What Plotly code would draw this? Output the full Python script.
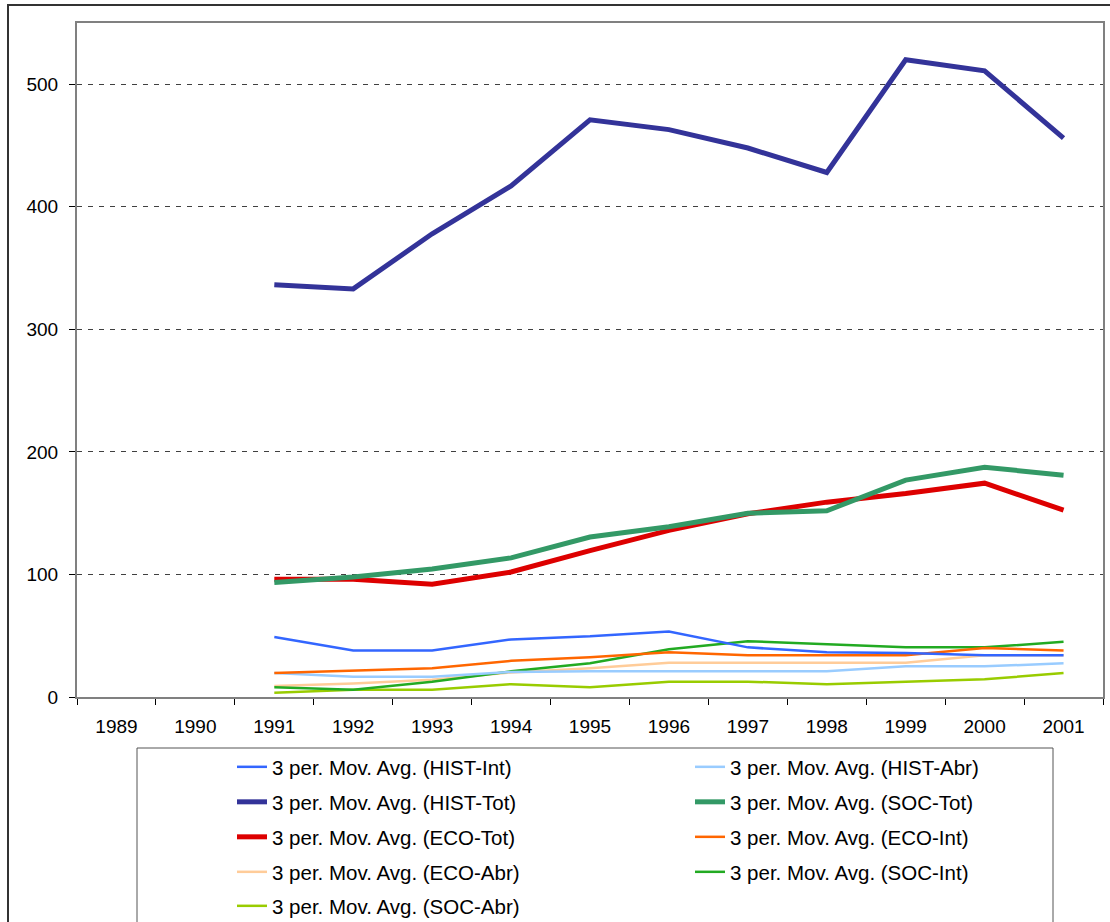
import plotly.graph_objects as go

years = ["1989", "1990", "1991", "1992", "1993", "1994", "1995", "1996",
         "1997", "1998", "1999", "2000", "2001"]

hist_int = [None, None, 49, 38, 38, 47, 49.5, 53.5, 40.5, 36.5, 36, 34, 34]
hist_abr = [None, None, 19.5, 16.5, 16.5, 20.5, 21, 21, 21, 21, 25, 25, 27.5]
hist_tot = [None, None, 336.5, 333, 378, 417, 471, 463, 448, 428, 520, 511, 456]
soc_tot = [None, None, 93.5, 98, 104.5, 113.5, 130.5, 139, 150, 152, 177, 187.5, 181]
eco_tot = [None, None, 96, 96, 92, 102, 119.5, 136, 149.5, 159, 166, 174.5, 152.5]
eco_int = [None, None, 19.5, 21.5, 23.5, 29.5, 32.5, 36.5, 34, 34, 34, 40, 38]
eco_abr = [None, None, 9, 11, 14, 20, 23.5, 28, 28, 28, 28, 34, 34]
soc_int = [None, None, 8, 6, 12.5, 21, 27.5, 39, 45.5, 43, 40.5, 40.5, 45]
soc_abr = [None, None, 3.5, 6, 6, 10.5, 8, 12.5, 12.5, 10.5, 12.5, 14.5, 19.5]

y_ticks = [0, 100, 200, 300, 400, 500]

W, H = 1110, 922
L, R, T, B = 77, 1103, 23, 697
PW, PH = R - L, B - T


def px(x):
    return (x - L) / PW


def py(y):
    return (B - y) / PH


# (name, values, color, width, legend-row, legend-column)
series = [
    ("3 per. Mov. Avg. (SOC-Abr)", soc_abr, "#99CC00", 2.5, 4, 0),
    ("3 per. Mov. Avg. (ECO-Abr)", eco_abr, "#FFCC99", 2.5, 3, 0),
    ("3 per. Mov. Avg. (SOC-Int)", soc_int, "#22AA22", 2.5, 3, 1),
    ("3 per. Mov. Avg. (HIST-Abr)", hist_abr, "#99CCFF", 2.5, 0, 1),
    ("3 per. Mov. Avg. (ECO-Int)", eco_int, "#FF6600", 2.5, 2, 1),
    ("3 per. Mov. Avg. (HIST-Int)", hist_int, "#3366FF", 2.5, 0, 0),
    ("3 per. Mov. Avg. (ECO-Tot)", eco_tot, "#DD0000", 5, 2, 0),
    ("3 per. Mov. Avg. (SOC-Tot)", soc_tot, "#339966", 5, 1, 1),
    ("3 per. Mov. Avg. (HIST-Tot)", hist_tot, "#333399", 5, 1, 0),
]

FONT = "Liberation Sans, Arial, sans-serif"
row_y = [767, 802, 837, 872, 906]
col_x = [232, 690]

fig = go.Figure()
legends = {}
for i, (name, vals, color, width, row, col) in enumerate(series):
    key = "legend" if i == 0 else f"legend{i + 1}"
    fig.add_trace(go.Scatter(
        x=years, y=vals, name=name, mode="lines",
        line=dict(color=color, width=width),
        legend=key, connectgaps=False, hoverinfo="skip",
    ))
    legends[key] = dict(
        orientation="v", xanchor="left", yanchor="middle",
        x=px(col_x[col]), y=py(row_y[row]),
        bgcolor="rgba(0,0,0,0)", borderwidth=0,
        font=dict(family=FONT, size=20.5, color="black"),
    )

fig.update_layout(
    width=W, height=H,
    margin=dict(l=L, r=W - R, t=T, b=H - B, pad=0, autoexpand=False),
    paper_bgcolor="white", plot_bgcolor="white",
    font=dict(family=FONT, size=19, color="black"),
    showlegend=True,
    **legends,
    xaxis=dict(
        type="category", categoryorder="array", categoryarray=years,
        range=[-0.5, len(years) - 0.5],
        showgrid=False, zeroline=False,
        showline=True, linecolor="#808080", linewidth=2, mirror=True,
        ticks="outside", tickson="boundaries", ticklen=6, tickwidth=1,
        tickcolor="#000000", ticklabelstandoff=11,
        tickfont=dict(family=FONT, size=19, color="black"),
    ),
    yaxis=dict(
        range=[0, 550], tickvals=y_ticks,
        showgrid=True, gridcolor="#404040", griddash="5px,6px", gridwidth=1,
        zeroline=False,
        showline=True, linecolor="#808080", linewidth=2, mirror=True,
        ticks="outside", ticklen=6, tickwidth=1, tickcolor="#000000",
        ticklabelstandoff=7,
        tickfont=dict(family=FONT, size=19, color="black"),
    ),
    shapes=[
        # outer chart border (top/left visible)
        dict(type="rect", xref="paper", yref="paper",
             x0=px(8), x1=px(1125), y0=py(940), y1=py(5),
             line=dict(color="#333333", width=2), fillcolor="rgba(0,0,0,0)",
             layer="below"),
        # legend box
        dict(type="rect", xref="paper", yref="paper",
             x0=px(137), x1=px(1053), y0=py(935), y1=py(748),
             line=dict(color="#555555", width=1), fillcolor="rgba(0,0,0,0)"),
    ],
)

fig.write_html(
    "out.html",
    config={"displayModeBar": False},
    post_script="document.body.style.margin='0px';"
                "document.body.style.overflow='hidden';",
)
